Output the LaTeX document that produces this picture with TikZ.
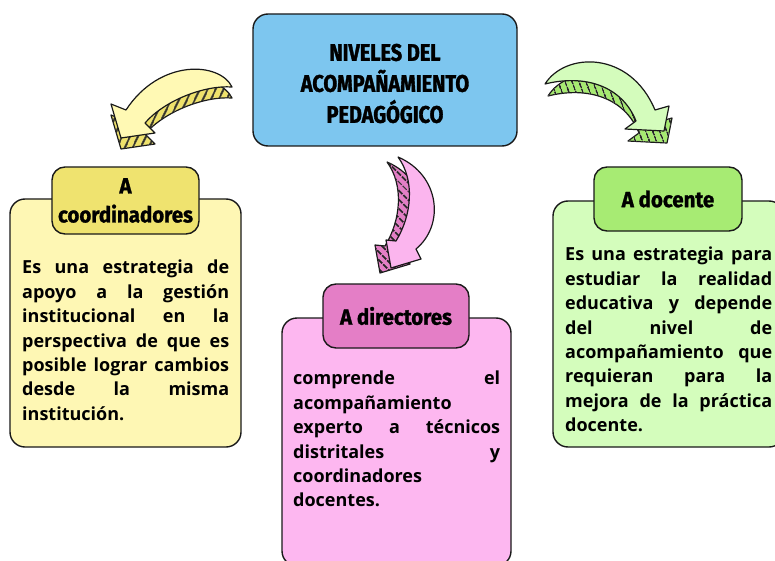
\documentclass[tikz,border=0pt]{standalone}
\usepackage{fontspec}
\setmainfont{Open Sans}
\newfontfamily\titlefont{Fira Sans}[FakeStretch=0.83, BoldFeatures={FakeBold=1.5}]
\newfontfamily\tabfont{Fira Sans}[FakeStretch=0.93, BoldFeatures={FakeBold=1.2}]
\usetikzlibrary{patterns.meta}

\definecolor{titleblue}{HTML}{7DC6EF}
\definecolor{ytab}{HTML}{EFE36F}
\definecolor{ybody}{HTML}{FEF7B4}
\definecolor{yface}{HTML}{FFF9B4}
\definecolor{yband}{HTML}{EFE26A}
\definecolor{ptab}{HTML}{E47EC6}
\definecolor{pbody}{HTML}{FDB7F0}
\definecolor{pface}{HTML}{FBB5EE}
\definecolor{pband}{HTML}{E47EC6}
\definecolor{gtab}{HTML}{A7EB73}
\definecolor{gbody}{HTML}{D4FDBC}
\definecolor{gface}{HTML}{D4FCBC}
\definecolor{gband}{HTML}{A6EA70}

\newcommand\fillline[1]{\makebox[207pt][s]{\spaceskip=0pt\xspaceskip=0pt #1}}
\newcommand\yellowarrow{(232,87) .. controls (220,62) and (160,58) .. (126,110) -- (111,104) -- (121,138) -- (155,133) -- (145,123) .. controls (165,100) and (205,85) .. (232,87) -- cycle}
\newcommand\greenarrow{(545,84) .. controls (565,52) and (630,50) .. (655,110) -- (669,106) -- (664,131) -- (625,129) -- (636,121) .. controls (622,86) and (585,74) .. (545,84) -- cycle}
\newcommand\pinkarrow{(398,157) .. controls (440,175) and (445,225) .. (416,249) -- (421,259) -- (391,268) -- (386,240) -- (396,241) .. controls (412,215) and (415,180) .. (398,157) -- cycle}

\begin{document}
\begin{tikzpicture}[x=1pt,y=-1pt,
    box/.style={draw=black!90, line width=1.4pt, rounded corners=15pt, inner sep=0pt},
    tab/.style={box, rounded corners=13pt, font=\tabfont\bfseries\fontsize{22}{29}\selectfont, align=center},
    bodytext/.style={anchor=north west, text width=207pt, align=left, inner sep=0pt,
      font=\bfseries\fontsize{18}{24.4}\selectfont},
    band/.style args={#1/#2}{draw=black!90, line width=1.2pt, line join=round, fill=#1,
      postaction={pattern={Lines[angle=#2, distance=6.5pt, line width=2pt]}, pattern color=black!85}},
    face/.style={draw=black!90, line width=1.2pt, line join=round, fill=#1}]
  \useasboundingbox (0,0) rectangle (775,561);

  \node[box, fill=titleblue, minimum width=264pt, minimum height=132pt] (title) at (385,80) {};
  \node[font=\titlefont\bfseries\fontsize{24}{31}\selectfont, align=center] (titletext) at (385,83.5)
    {NIVELES DEL\\ACOMPAÑAMIENTO\\PEDAGÓGICO};

  \draw[band=yband/65, shift={(0,11)}] \yellowarrow;
  \draw[face=yface] \yellowarrow;
  \draw[band=gband/-70, shift={(3,12)}] \greenarrow;
  \draw[face=gface] \greenarrow;
  \draw[band=pband/-45, shift={(-11,5)}] \pinkarrow;
  \draw[face=pface] \pinkarrow;

  \node[box, fill=ybody, minimum width=231pt, minimum height=248pt] (coordbody) at (125.5,323) {};
  \node[tab, fill=ytab, minimum width=147pt, minimum height=67pt] (coordtab) at (125.5,200.5) {A\\coordinadores};
  \node[bodytext] (coordtext) at (22,260) {%
    \fillline{Es una estrategia de}\\
    \fillline{apoyo a la gestión}\\
    \fillline{institucional en la}\\
    \fillline{perspectiva de que es}\\
    \fillline{posible lograr cambios}\\
    \fillline{desde la misma}\\
    institución.};

  \node[box, fill=pbody, minimum width=229pt, minimum height=248pt] (dirbody) at (396.5,442) {};
  \node[tab, fill=ptab, minimum width=146pt, minimum height=64pt] (dirtab) at (396,316) {A directores};
  \node[bodytext] (dirtext) at (293,371) {%
    \fillline{comprende el}\\
    acompañamiento\\
    \fillline{experto a técnicos}\\
    \fillline{distritales y}\\
    coordinadores\\
    docentes.};

  \node[box, fill=gbody, minimum width=231pt, minimum height=246pt] (docbody) at (668.5,324) {};
  \node[tab, fill=gtab, minimum width=148pt, minimum height=64pt] (doctab) at (668,199) {A docente};
  \node[bodytext] (doctext) at (565,247) {%
    \fillline{Es una estrategia para}\\
    \fillline{estudiar la realidad}\\
    \fillline{educativa y depende}\\
    \fillline{del nivel de}\\
    \fillline{acompañamiento que}\\
    \fillline{requieran para la}\\
    \fillline{mejora de la práctica}\\
    docente.};
\end{tikzpicture}
\end{document}
